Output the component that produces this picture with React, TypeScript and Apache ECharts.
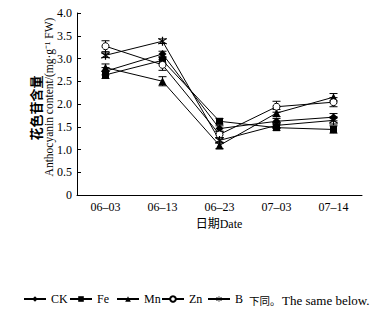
import React, { useEffect, useRef } from "react";
import * as echarts from "echarts";

const categories = ["06–03", "06–13", "06–23", "07–03", "07–14"];
const yTicks = [0, 0.5, 1, 1.5, 2, 2.5, 3, 3.5, 4];
const seriesNames = ["CK", "Fe", "Mn", "Zn", "B"];

const CK = [2.72, 3.1, 1.46, 1.62, 1.71];
const Fe = [2.64, 2.96, 1.62, 1.48, 1.44];
const Mn = [2.8, 2.5, 1.09, 1.8, 2.15];
const Zn = [3.27, 2.86, 1.33, 1.94, 2.04];
const B = [3.07, 3.38, 1.2, 1.53, 1.64];

const CKerr = [0.08, 0.06, 0.06, 0.06, 0.08];
const FeErr = [0.08, 0.06, 0.06, 0.06, 0.08];
const MnErr = [0.08, 0.1, 0.07, 0.08, 0.08];
const ZnErr = [0.12, 0.12, 0.07, 0.12, 0.1];
const BErr = [0.05, 0.05, 0.06, 0.06, 0.08];

const legendLefts = [23, 69, 116, 161, 207];

const FONT = "Liberation Serif, Noto Sans CJK SC, serif";
const STAR =
  "path://M4.4 0 L5.6 0 L5.6 10 L4.4 10 Z M0.5 2.3 L1.2 1.3 L9.5 7.7 L8.8 8.7 Z M9.5 2.3 L8.8 1.3 L0.5 7.7 L1.2 8.7 Z";

function errorSeries(values: number[], errs: number[]) {
  return {
    type: "custom",
    silent: true,
    z: 1,
    data: values.map((v, i) => [i, v - errs[i], v + errs[i]]),
    encode: { x: 0, y: [1, 2] },
    renderItem: (params: any, api: any) => {
      const x = api.value(0);
      const lo = api.coord([x, api.value(1)]);
      const hi = api.coord([x, api.value(2)]);
      const w = 4;
      const style = { stroke: "#000", lineWidth: 1 };
      return {
        type: "group",
        children: [
          { type: "line", shape: { x1: lo[0], y1: lo[1], x2: hi[0], y2: hi[1] }, style },
          { type: "line", shape: { x1: lo[0] - w, y1: lo[1], x2: lo[0] + w, y2: lo[1] }, style },
          { type: "line", shape: { x1: hi[0] - w, y1: hi[1], x2: hi[0] + w, y2: hi[1] }, style },
        ],
      };
    },
  };
}

function lineSeries(name: string, data: number[], symbol: string, size: number, hollow = false) {
  return {
    name,
    type: "line",
    data,
    symbol,
    symbolSize: size,
    showAllSymbol: true,
    z: 3,
    lineStyle: { color: "#000", width: 1 },
    itemStyle: hollow
      ? { color: "#fff", borderColor: "#000", borderWidth: 1 }
      : { color: "#000", borderColor: "#000", borderWidth: 0 },
    emphasis: { disabled: true },
  };
}

export default function App() {
  const ref = useRef<HTMLDivElement>(null);
  useEffect(() => {
    if (!ref.current) return;
    const chart = echarts.init(ref.current, undefined, { renderer: "svg" });
    chart.setOption({
      animation: false,
      backgroundColor: "#fff",
      textStyle: { fontFamily: FONT },
      grid: { left: 77, right: 18, top: 13, bottom: 122, containLabel: false },
      xAxis: {
        type: "category",
        data: categories,
        boundaryGap: true,
        axisLine: { lineStyle: { color: "#000", width: 1 } },
        axisTick: { inside: true, length: 4, lineStyle: { color: "#000" } },
        axisLabel: { color: "#000", fontFamily: FONT, fontSize: 12, margin: 6 },
        splitLine: { show: false },
      },
      yAxis: {
        type: "value",
        min: 0,
        max: 4,
        interval: 0.5,
        axisLine: { show: true, lineStyle: { color: "#000", width: 1 } },
        axisTick: { show: true, inside: true, length: 4, lineStyle: { color: "#000" } },
        axisLabel: {
          color: "#000",
          fontFamily: FONT,
          fontSize: 12,
          margin: 5,
          formatter: (v: number) => {
            const t = yTicks.find((k) => Math.abs(k - v) < 1e-9);
            if (t === undefined) return "";
            return t === 0 ? "0" : t.toFixed(1);
          },
        },
        splitLine: { show: false },
      },
      legend: seriesNames.map((n, i) => ({
        data: [n],
        left: legendLefts[i],
        top: 293,
        padding: 0,
        itemWidth: 22,
        itemHeight: 7,
        itemGap: 0,
        textStyle: { color: "#000", fontFamily: FONT, fontSize: 12 },
        selectedMode: false,
      })),
      graphic: [
        {
          type: "text",
          x: 35,
          y: 108,
          rotation: Math.PI / 2,
          style: {
            text: "花色苷含量",
            fontFamily: "Noto Sans CJK SC, sans-serif",
            fontWeight: "bold",
            fontSize: 13,
            fill: "#000",
            textAlign: "center",
            textVerticalAlign: "middle",
          },
        },
        {
          type: "text",
          x: 49,
          y: 97,
          rotation: Math.PI / 2,
          style: {
            text: "Anthocyanin content/(mg·g⁻¹ FW)",
            fontFamily: FONT,
            fontSize: 11.5,
            fill: "#000",
            textAlign: "center",
            textVerticalAlign: "middle",
          },
        },
        {
          type: "text",
          x: 219,
          y: 224,
          style: {
            text: "日期Date",
            fontFamily: FONT,
            fontSize: 12,
            fill: "#000",
            textAlign: "center",
            textVerticalAlign: "middle",
          },
        },
        {
          type: "text",
          x: 249,
          y: 300,
          style: {
            text: "下同。",
            fontFamily: "Noto Sans CJK SC, sans-serif",
            fontSize: 10.5,
            fill: "#000",
            textAlign: "left",
            textVerticalAlign: "middle",
          },
        },
        {
          type: "text",
          x: 282,
          y: 300,
          style: {
            text: "The same below.",
            fontFamily: FONT,
            fontSize: 13,
            fill: "#000",
            textAlign: "left",
            textVerticalAlign: "middle",
          },
        },
      ],
      series: [
        errorSeries(CK, CKerr),
        errorSeries(Fe, FeErr),
        errorSeries(Mn, MnErr),
        errorSeries(Zn, ZnErr),
        errorSeries(B, BErr),
        lineSeries("CK", CK, "diamond", 8),
        lineSeries("Fe", Fe, "rect", 7),
        lineSeries("Mn", Mn, "triangle", 8),
        lineSeries("Zn", Zn, "circle", 7, true),
        lineSeries("B", B, STAR, 9),
      ],
    });
    return () => chart.dispose();
  }, []);
  return (
    <div
      ref={ref}
      style={{ position: "fixed", left: 0, top: 0, width: 380, height: 317, background: "#fff" }}
    />
  );
}
